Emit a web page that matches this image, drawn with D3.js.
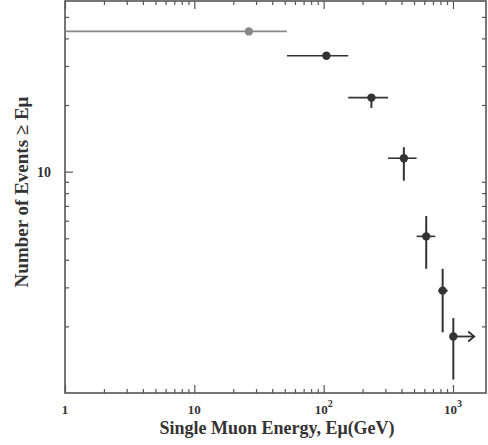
<!DOCTYPE html>
<html lang="en">
<head>
<meta charset="utf-8">
<title>Single Muon Energy</title>
<script src="https://d3js.org/d3.v7.min.js"></script>
<style>
  body { margin: 0; background: #fff; }
  text { font-family: "Liberation Serif", "DejaVu Serif", serif; font-weight: bold; fill: #333; }
</style>
</head>
<body>
<div id="chart"></div>
<script>
// data
var energy = [26.4, 105, 234, 417, 621, 832, 1006];
var events = [43, 33.4, 21.6, 11.5, 5.1, 2.9, 1.8];
var eLo = [1, 52, 155, 315, 523, 768, 985];
var eHi = [52, 155, 315, 523, 729, 912, 1025];
var nLo = [43, 33.4, 19.4, 9.1, 3.64, 1.88, 1.15];
var nHi = [43, 33.4, 21.6, 12.9, 6.3, 3.64, 2.18];
var lowerLimit = [false, false, false, false, false, false, true];
var xMajor = [1, 10, 100, 1000];
var xMajorLabels = [["1", ""], ["10", ""], ["10", "2"], ["10", "3"]];
var yMajor = [10];
var yMajorLabels = ["10"];

var width = 488, height = 445;
var pLeft = 65, pRight = 486, pTop = 1, pBottom = 393;

var svg = d3.select("#chart").append("svg")
  .attr("width", width).attr("height", height);

var x = d3.scaleLog().domain([1, 1800]).range([pLeft, pRight]);
var y = d3.scaleLog().domain([1, 59]).range([pBottom, pTop]);

function minors(lo, hi) {
  var out = [];
  for (var p = 1; p <= hi; p *= 10)
    for (var m = 2; m <= 9; m++)
      if (m * p >= lo && m * p <= hi) out.push(m * p);
  return out;
}
var xMinor = minors(1, 1800);
var yMinor = minors(1, 59);

var axisColor = "#555";

function styleAxis(g) {
  g.select(".domain").remove();
  g.selectAll("line").attr("stroke", axisColor).attr("stroke-width", 1.2);
}

// frame
svg.append("rect")
  .attr("x", pLeft).attr("y", pTop)
  .attr("width", pRight - pLeft).attr("height", pBottom - pTop)
  .attr("fill", "none").attr("stroke", axisColor).attr("stroke-width", 1.6);

// bottom axis, ticks inward
svg.append("g").attr("transform", "translate(0," + pBottom + ")")
  .call(d3.axisBottom(x).tickValues(xMinor).tickSize(-4).tickFormat(""))
  .call(styleAxis);
svg.append("g").attr("transform", "translate(0," + pBottom + ")")
  .call(d3.axisBottom(x).tickValues(xMajor).tickSize(-8).tickFormat(""))
  .call(styleAxis);
// top axis
svg.append("g").attr("transform", "translate(0," + pTop + ")")
  .call(d3.axisTop(x).tickValues(xMinor).tickSize(-4).tickFormat(""))
  .call(styleAxis);
svg.append("g").attr("transform", "translate(0," + pTop + ")")
  .call(d3.axisTop(x).tickValues(xMajor).tickSize(-8).tickFormat(""))
  .call(styleAxis);
// left axis
svg.append("g").attr("transform", "translate(" + pLeft + ",0)")
  .call(d3.axisLeft(y).tickValues(yMinor).tickSize(-4).tickFormat(""))
  .call(styleAxis);
svg.append("g").attr("transform", "translate(" + pLeft + ",0)")
  .call(d3.axisLeft(y).tickValues(yMajor).tickSize(-8).tickFormat(""))
  .call(styleAxis);
// right axis
svg.append("g").attr("transform", "translate(" + pRight + ",0)")
  .call(d3.axisRight(y).tickValues(yMinor).tickSize(-4).tickFormat(""))
  .call(styleAxis);

// x tick labels
var xl = svg.append("g").selectAll("text")
  .data(xMajor).enter().append("text")
  .attr("x", function (d) { return x(d); })
  .attr("y", pBottom + 21)
  .attr("text-anchor", "middle")
  .style("font-size", "13px");
xl.append("tspan").text(function (d, i) { return xMajorLabels[i][0]; });
xl.append("tspan")
  .attr("dy", -7).style("font-size", "10px")
  .text(function (d, i) { return xMajorLabels[i][1]; });

// y tick labels
svg.append("g").selectAll("text")
  .data(yMajor).enter().append("text")
  .attr("x", pLeft - 14)
  .attr("y", function (d) { return y(d) + 5; })
  .attr("text-anchor", "end")
  .style("font-size", "14px")
  .text(function (d, i) { return yMajorLabels[i]; });

// axis titles
svg.append("text")
  .attr("x", 277).attr("y", 434)
  .attr("text-anchor", "middle")
  .style("font-size", "18px")
  .text("Single Muon Energy, E\u03bc(GeV)");
svg.append("text")
  .attr("transform", "translate(28,192) rotate(-90)")
  .attr("text-anchor", "middle")
  .style("font-size", "19px")
  .text("Number of Events \u2265 E\u03bc");

// error bars and points
var pts = svg.append("g");
energy.forEach(function (e, i) {
  var c = i === 0 ? "#888" : "#333";
  pts.append("line")
    .attr("x1", x(eLo[i])).attr("x2", x(eHi[i]))
    .attr("y1", y(events[i])).attr("y2", y(events[i]))
    .attr("stroke", c).attr("stroke-width", 1.6);
  if (nLo[i] !== nHi[i]) {
    pts.append("line")
      .attr("x1", x(e)).attr("x2", x(e))
      .attr("y1", y(nLo[i])).attr("y2", y(nHi[i]))
      .attr("stroke", c).attr("stroke-width", 2);
  }
  pts.append("circle")
    .attr("cx", x(e)).attr("cy", y(events[i]))
    .attr("r", 4.2).attr("fill", c);
  if (lowerLimit[i]) {
    var xa = x(e), xb = x(1460), ya = y(events[i]);
    pts.append("line")
      .attr("x1", xa).attr("x2", xb).attr("y1", ya).attr("y2", ya)
      .attr("stroke", c).attr("stroke-width", 1.8);
    pts.append("path")
      .attr("d", "M" + (xb - 6) + "," + (ya - 5) + "L" + xb + "," + ya + "L" + (xb - 6) + "," + (ya + 5))
      .attr("fill", "none").attr("stroke", c).attr("stroke-width", 1.8);
  }
});
</script>
</body>
</html>
